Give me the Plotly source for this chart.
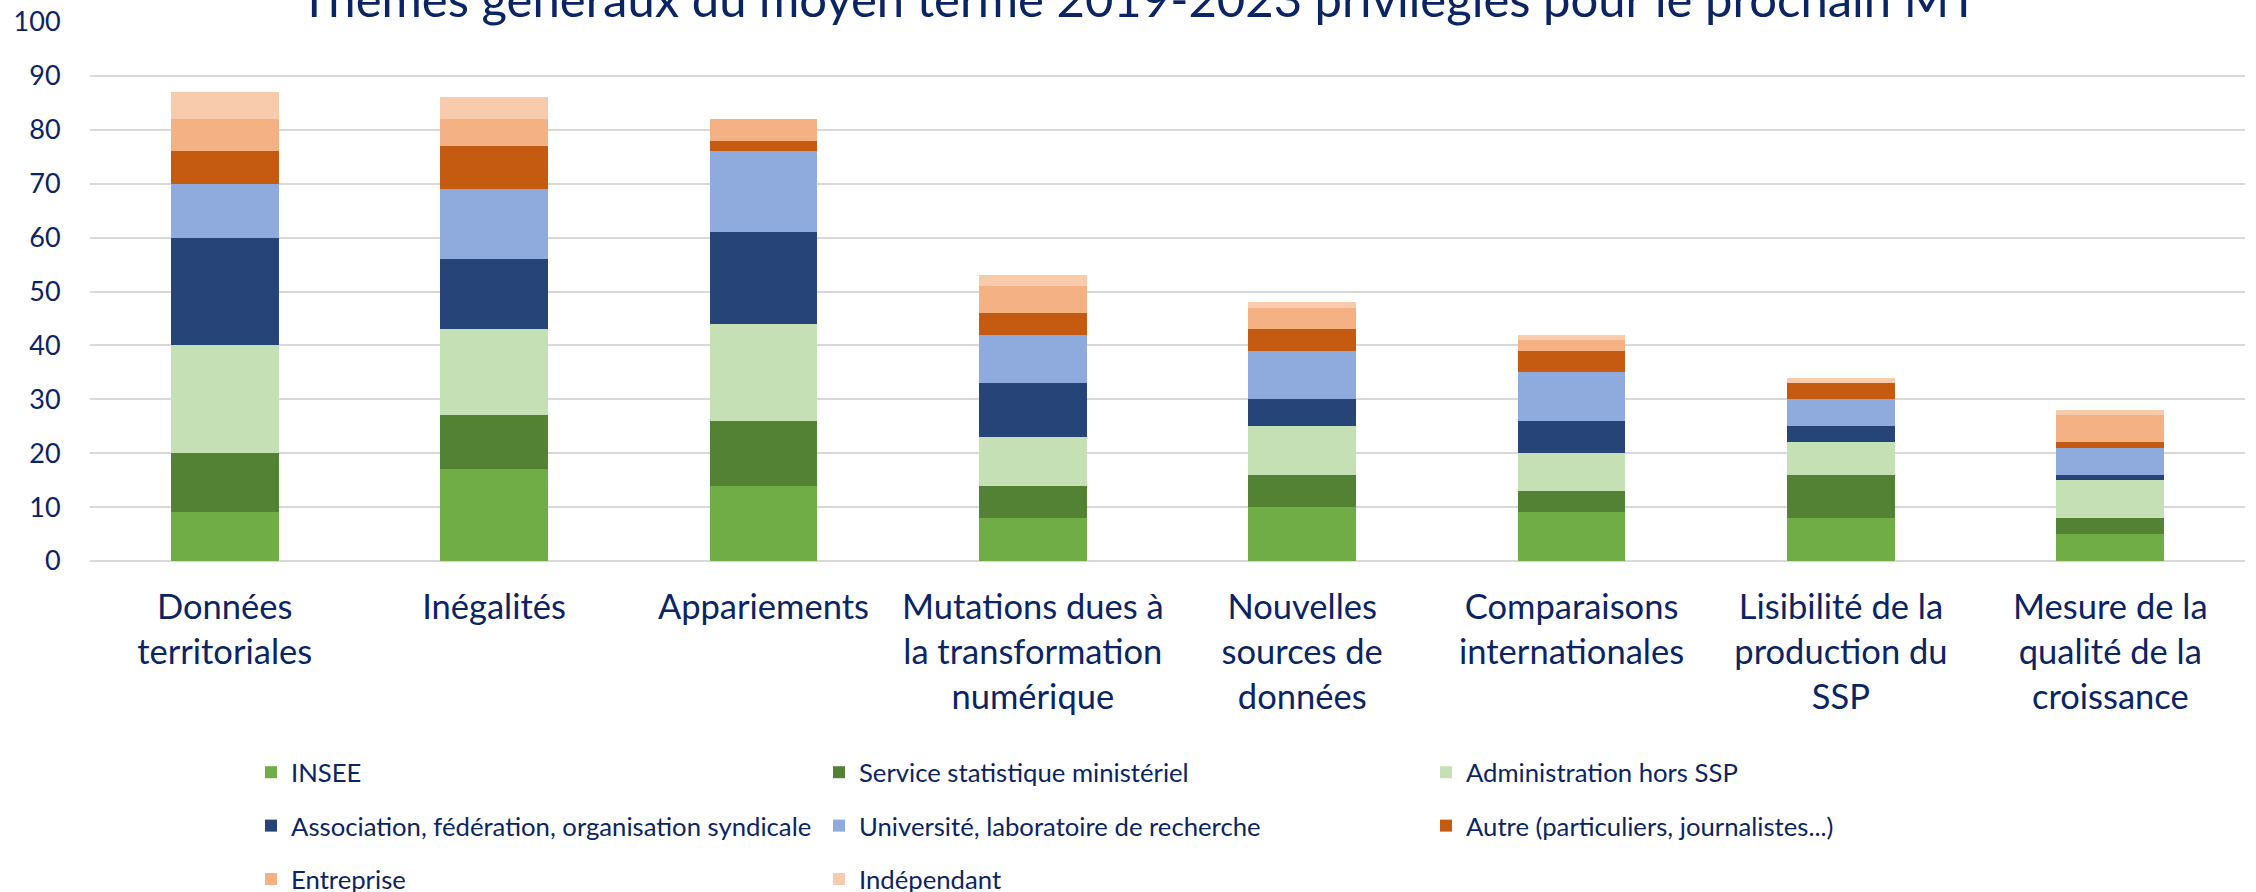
import plotly.graph_objects as go

categories = [
    "Données<br>territoriales",
    "Inégalités",
    "Appariements",
    "Mutations dues à<br>la transformation<br>numérique",
    "Nouvelles<br>sources de<br>données",
    "Comparaisons<br>internationales",
    "Lisibilité de la<br>production du<br>SSP",
    "Mesure de la<br>qualité de la<br>croissance",
]

insee          = [9, 17, 14, 8, 10, 9, 8, 5]
service_stat   = [11, 10, 12, 6, 6, 4, 8, 3]
administration = [20, 16, 18, 9, 9, 7, 6, 7]
association    = [20, 13, 17, 10, 5, 6, 3, 1]
universite     = [10, 13, 15, 9, 9, 9, 5, 5]
autre          = [6, 8, 2, 4, 4, 4, 3, 1]
entreprise     = [6, 5, 4, 5, 4, 2, 0, 5]
independant    = [5, 4, 0, 2, 1, 1, 1, 1]

series_names = [
    "INSEE",
    "Service statistique ministériel",
    "Administration hors SSP",
    "Association, fédération, organisation syndicale",
    "Université, laboratoire de recherche",
    "Autre (particuliers, journalistes...)",
    "Entreprise",
    "Indépendant",
]
series_values = [insee, service_stat, administration, association,
                 universite, autre, entreprise, independant]
colors = ["#70AD47", "#548235", "#C5E0B4", "#264478",
          "#8FAADC", "#C55A11", "#F4B183", "#F8CBAD"]
# legend column assignment (3 columns, row-major like Excel)
legend_of = ["legend", "legend2", "legend3",
             "legend", "legend2", "legend3",
             "legend", "legend2"]

title_text = "Thèmes généraux du moyen terme 2019-2023 privilégiés pour le prochain MT"
y_ticks = [0, 10, 20, 30, 40, 50, 60, 70, 80, 90, 100]

navy = "#0B2463"
font_family = "Lato"

fig = go.Figure()
for name, vals, col, leg in zip(series_names, series_values, colors, legend_of):
    fig.add_trace(go.Bar(
        x=categories, y=vals, name=name,
        marker=dict(color=col, line=dict(width=0)),
        legend=leg, legendgroup=name,
    ))

W, H = 2256, 892
legend_common = dict(
    orientation="v", xref="container", yref="container",
    yanchor="top", xanchor="left",
    font=dict(family=font_family, size=25.7, color=navy),
    bgcolor="rgba(0,0,0,0)", borderwidth=0,
    tracegroupgap=17, itemclick=False,
)
y_leg = 1 - 749 / H

fig.update_layout(
    width=W, height=H,
    barmode="stack", bargap=0.6,
    paper_bgcolor="white", plot_bgcolor="white",
    margin=dict(l=90, r=11, t=22, b=331, autoexpand=False),
    font=dict(family=font_family, color=navy),
    title=dict(text=title_text, x=0.5 + 11 / W, xref="container", xanchor="center",
               y=1.0, yref="container", yanchor="middle",
               font=dict(family=font_family, size=49, color=navy)),
    legend=dict(x=251 / W, y=y_leg, **legend_common),
    legend2=dict(x=819 / W, y=y_leg, **legend_common),
    legend3=dict(x=1426 / W, y=y_leg, **legend_common),
    xaxis=dict(
        tickfont=dict(family=font_family, size=34.5, color=navy),
        showgrid=False, showline=False, zeroline=False,
        ticks="outside", ticklen=16, tickcolor="rgba(0,0,0,0)",
    ),
    yaxis=dict(
        range=[0, 100], tickvals=y_ticks,
        tickfont=dict(family=font_family, size=27, color=navy),
        showgrid=True, gridcolor="#D9D9D9", gridwidth=2,
        zeroline=True, zerolinecolor="#D9D9D9", zerolinewidth=2,
        showline=False, ticks="outside", ticklen=23,
        tickcolor="rgba(0,0,0,0)",
    ),
)

fig.write_html("out.html",
               config={"displayModeBar": False},
               post_script="document.body.style.margin='0';document.body.style.overflow='hidden';")
